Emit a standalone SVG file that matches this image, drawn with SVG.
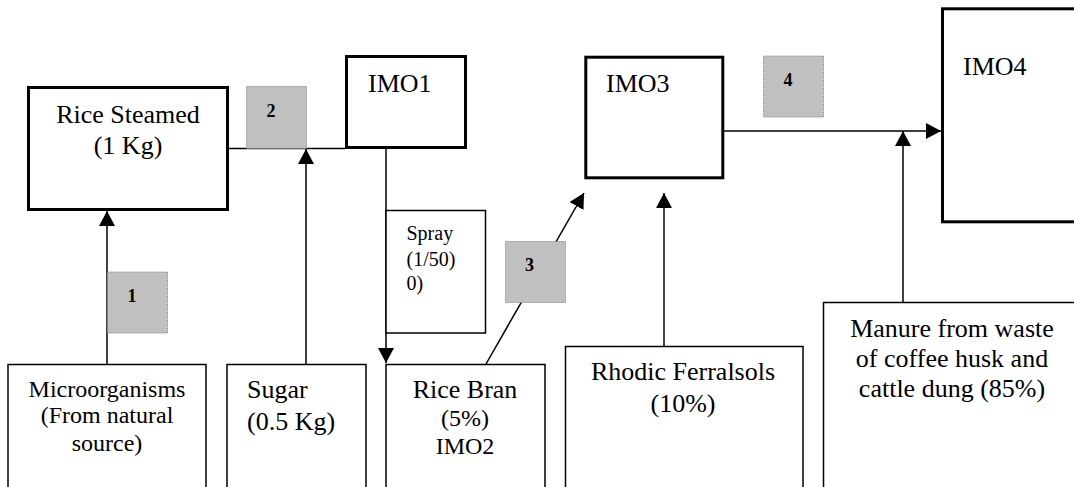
<svg xmlns="http://www.w3.org/2000/svg" width="1074" height="487" viewBox="0 0 1074 487">
<style>
text{font-family:"Liberation Serif","Times New Roman",serif;fill:#000}
.t{font-size:26px}
.s{font-size:20px}
.m{font-size:24px}
.n{font-size:18px;font-weight:bold;text-anchor:middle}
.c{text-anchor:middle}
.thick{fill:#fff;stroke:#000;stroke-width:3}
.thin{fill:#fff;stroke:#000;stroke-width:1.5}
.step{fill:#c0c0c0;stroke:#808080;stroke-width:1;stroke-dasharray:1 1}
.ln{fill:none;stroke:#000;stroke-width:1.5}
</style>
<defs>
<marker id="ah" markerUnits="userSpaceOnUse" markerWidth="16" markerHeight="16" refX="15" refY="8" orient="auto">
<path d="M0,0 L15,8 L0,16 z" fill="#000"/>
</marker>
</defs>
<rect width="1074" height="487" fill="#fff"/>
<g id="connectors">
<line class="ln" x1="107" y1="364" x2="107" y2="211" marker-end="url(#ah)"/>
<line class="ln" x1="229" y1="148.5" x2="345" y2="148.5"/>
<line class="ln" x1="306" y1="364" x2="306" y2="149" marker-end="url(#ah)"/>
<line class="ln" x1="386" y1="149" x2="386" y2="363" marker-end="url(#ah)"/>
<line class="ln" x1="486" y1="364" x2="584" y2="193" marker-end="url(#ah)"/>
<line class="ln" x1="664" y1="346.5" x2="664" y2="193" marker-end="url(#ah)"/>
<line class="ln" x1="724" y1="131" x2="941" y2="131" marker-end="url(#ah)"/>
<line class="ln" x1="903" y1="302.5" x2="903" y2="131" marker-end="url(#ah)"/>
</g>
<g id="rice-steamed">
<rect class="thick" x="28.5" y="87.5" width="199" height="122"/>
<text class="t c" x="128" y="123">Rice Steamed</text>
<text class="t c" x="128" y="154">(1 Kg)</text>
</g>
<g id="imo1">
<rect class="thick" x="346.5" y="56.5" width="119" height="91"/>
<text class="t" x="368" y="92">IMO1</text>
</g>
<g id="spray">
<rect class="thin" x="386" y="210.5" width="99.5" height="122.5"/>
<text class="s" x="406.5" y="240">Spray</text>
<text class="s" x="406.5" y="266">(1/50)</text>
<text class="s" x="406.5" y="290">0)</text>
</g>
<g id="imo3">
<rect class="thick" x="585.8" y="57.2" width="137" height="120.6"/>
<text class="t" x="606" y="92">IMO3</text>
</g>
<g id="imo4">
<rect class="thick" x="942.5" y="8.8" width="200" height="213"/>
<text class="t" x="963" y="75">IMO4</text>
</g>
<g id="microorganisms">
<rect class="thin" x="8" y="364.5" width="198" height="200"/>
<text class="m c" x="107" y="397">Microorganisms</text>
<text class="m c" x="107" y="423">(From natural</text>
<text class="m c" x="107" y="451">source)</text>
</g>
<g id="sugar">
<rect class="thin" x="227" y="364.5" width="139" height="200"/>
<text class="t" x="247" y="398">Sugar</text>
<text class="t" x="247" y="430">(0.5 Kg)</text>
</g>
<g id="rice-bran">
<rect class="thin" x="386" y="364.5" width="159" height="200"/>
<text class="t c" x="465" y="398">Rice Bran</text>
<text class="m c" x="465" y="426">(5%)</text>
<text class="m c" x="465" y="454">IMO2</text>
</g>
<g id="rhodic-ferralsols">
<rect class="thin" x="565.5" y="346.5" width="237.5" height="200"/>
<text class="t c" x="683" y="380">Rhodic Ferralsols</text>
<text class="t c" x="683" y="412">(10%)</text>
</g>
<g id="manure">
<rect class="thin" x="823.5" y="302.5" width="300" height="250"/>
<text class="t c" x="952" y="337">Manure from waste</text>
<text class="t c" x="952" y="367">of coffee husk and</text>
<text class="t c" x="952" y="397">cattle dung (85%)</text>
</g>
<g id="step1">
<rect class="step" x="107.5" y="272" width="60" height="61"/>
<text class="n" x="132" y="302">1</text>
</g>
<g id="step2">
<rect class="step" x="246.5" y="86.5" width="60" height="62"/>
<text class="n" x="271" y="117">2</text>
</g>
<g id="step3">
<rect class="step" x="505.5" y="241.5" width="60" height="61"/>
<text class="n" x="529.5" y="271">3</text>
</g>
<g id="step4">
<rect class="step" x="763.5" y="56" width="60" height="61"/>
<text class="n" x="788" y="86">4</text>
</g>
</svg>
